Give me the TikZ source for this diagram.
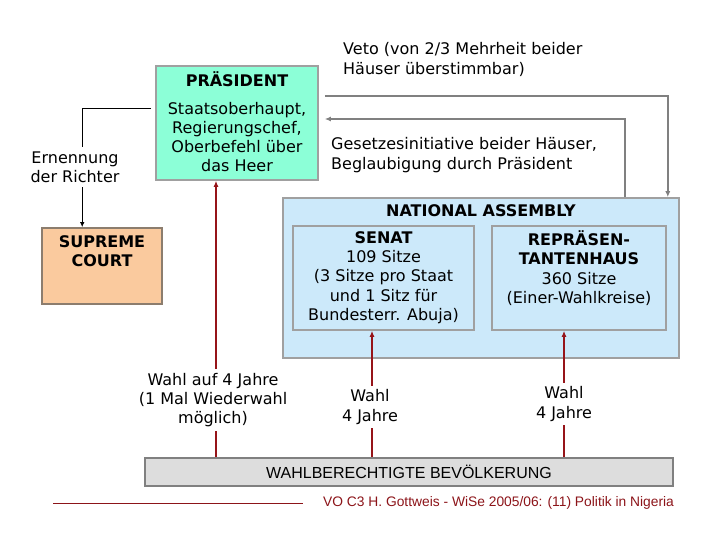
\documentclass[tikz,border=0pt]{standalone}
\usepackage{fontspec}
\setmainfont{DejaVu Sans}
\newfontfamily\arialfont{Liberation Sans}
\usetikzlibrary{positioning,calc,arrows.meta}

\definecolor{presgreen}{RGB}{140,255,215}
\definecolor{nablue}{RGB}{204,233,250}
\definecolor{courtpeach}{RGB}{250,202,158}
\definecolor{bevgray}{RGB}{221,221,221}
\definecolor{boxgray}{RGB}{160,160,160}
\definecolor{courtedge}{RGB}{140,125,110}
\definecolor{flowgray}{RGB}{128,128,128}
\definecolor{wahlred}{RGB}{150,20,25}
\definecolor{footred}{RGB}{140,20,25}

\tikzset{
  box/.style={draw=boxgray, line width=1.6pt, inner sep=0pt},
  txt/.style={align=center, inner sep=0pt, font=\fontsize{16}{19.3}\selectfont},
  gaptxt/.style={txt, fill=white, inner sep=4pt},
  flow/.style={draw=flowgray, line width=1.6pt, -{Latex[length=6pt,width=5pt]}},
  wahl/.style={draw=wahlred, line width=1.6pt, -{Latex[length=6pt,width=5pt]}},
}

\begin{document}
\begin{tikzpicture}[x=1pt,y=-1pt]
    \useasboundingbox (0,0) rectangle (720,540);

    % Praesident
    \node[box, fill=presgreen, minimum width=162pt, minimum height=114pt] (pres) at (237,123) {};
    \node[txt] (prestitle) at (237,79) {\textbf{PRÄSIDENT}};
    \node[txt] (presbody) at (237,137) {Staatsoberhaupt,\\Regierungschef,\\Oberbefehl über\\das Heer};

    % National Assembly with both houses
    \node[box, fill=nablue, minimum width=396pt, minimum height=160pt] (na) at (481,278) {};
    \node[txt] (natitle) at (481,211) {\textbf{NATIONAL ASSEMBLY}};
    \node[box, fill=nablue, minimum width=181pt, minimum height=104pt] (senat) at (383.5,278) {};
    \node[txt] (senattext) at (383.5,277.5) {\textbf{SENAT}\\109 Sitze\\(3 Sitze pro Staat\\und 1 Sitz für\\Bundesterr. Abuja)};
    \node[box, fill=nablue, minimum width=174pt, minimum height=104pt] (rep) at (579,278) {};
    \node[txt] (reptext) at (579,268) {\textbf{REPRÄSEN-}\\\textbf{TANTENHAUS}\\360 Sitze\\(Einer-Wahlkreise)};

    % Supreme Court
    \node[box, draw=courtedge, fill=courtpeach, minimum width=120pt, minimum height=76pt] (court) at (102,266) {};
    \node[txt] (courttext) at (102,251) {\textbf{SUPREME}\\\textbf{COURT}};

    % Wahlberechtigte
    \node[box, draw=flowgray, fill=bevgray, minimum width=528pt, minimum height=28pt] (bev) at (409,472)
        {\arialfont\fontsize{16}{19}\selectfont WAHLBERECHTIGTE BEVÖLKERUNG};

    % Veto and Gesetzesinitiative
    \draw[flow] ($(pres.east)+(6,-27)$) -| ($(na.north east)+(-12,0)$);
    \draw[flow] ($(na.north east)+(-55,0)$) |- ($(pres.east)+(6,-4)$);
    \node[txt, align=left, anchor=west] (veto) at (343,59.5) {Veto (von 2/3 Mehrheit beider\\Häuser überstimmbar)};
    \node[txt, align=left, anchor=west] (gesetz) at (331,155) {Gesetzesinitiative beider Häuser,\\Beglaubigung durch Präsident};

    % Ernennung der Richter
    \coordinate (ernstart) at ($(pres.west)+(-4,-14)$);
    \coordinate (ernend) at ($(court.north west)+(41,0)$);
    \draw[line width=1pt, -{Latex[length=5pt,width=4.5pt]}] (ernstart) -| (ernend);
    \node[gaptxt] (ern) at (75,167) {Ernennung\\der Richter};

    % Wahlen
    \coordinate (presin) at ($(pres.south)+(-21,0)$);
    \coordinate (senatin) at ($(senat.south)+(-11.5,0)$);
    \coordinate (repin) at ($(rep.south)+(-15,0)$);
    \draw[wahl] (bev.north -| presin) -- (presin);
    \draw[wahl] (bev.north -| senatin) -- (senatin);
    \draw[wahl] (bev.north -| repin) -- (repin);
    \node[gaptxt] (wahlpres) at (213,400) {Wahl auf 4 Jahre\\(1 Mal Wiederwahl\\möglich)};
    \node[gaptxt] (wahlsenat) at (370,407) {Wahl\\4 Jahre};
    \node[gaptxt] (wahlrep) at (564,404) {Wahl\\4 Jahre};

    % Fusszeile
    \draw[footred, line width=0.8pt] (53,503) -- (303,503);
    \node[anchor=west, inner sep=0pt, text=footred, font=\arialfont\fontsize{13.8}{16}\selectfont] (foot) at (323,503)
        {VO C3 H. Gottweis - WiSe 2005/06: (11) Politik in Nigeria};

\end{tikzpicture}
\end{document}
